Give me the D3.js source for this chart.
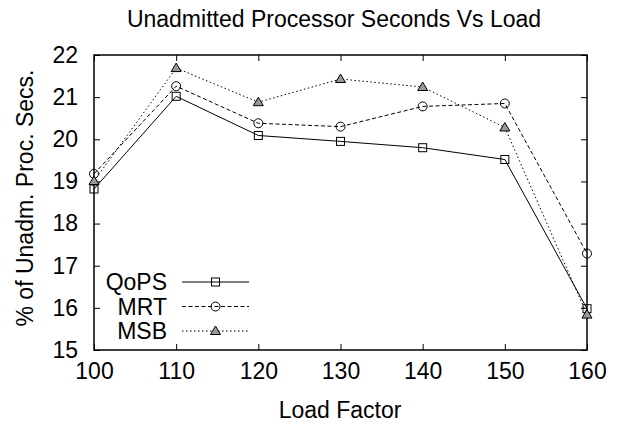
<!DOCTYPE html>
<html>
<head>
<meta charset="utf-8">
<script src="https://cdn.jsdelivr.net/npm/d3@7"></script>
<style>
  body { margin: 0; background: #fff; }
  svg text { font-family: "Liberation Sans", Arial, sans-serif; fill: #000; }
</style>
</head>
<body>
<div id="chart"></div>
<script>
const loadFactors = [100, 110, 120, 130, 140, 150, 160]
const qopsValues = [18.82, 21.02, 20.09, 19.95, 19.80, 19.52, 15.98]
const mrtValues = [19.18, 21.26, 20.38, 20.30, 20.78, 20.85, 17.29]
const msbValues = [19.01, 21.69, 20.88, 21.43, 21.24, 20.28, 15.84]
const yTicks = [15, 16, 17, 18, 19, 20, 21, 22]

const series = [
  { name: "QoPS", values: qopsValues, dash: null, marker: "square" },
  { name: "MRT", values: mrtValues, dash: "4,2.5", marker: "circle" },
  { name: "MSB", values: msbValues, dash: "1.5,2.5", marker: "triangle" }
]

const width = 618
const height = 425
const margin = { top: 55, right: 31, bottom: 75, left: 94 }
const boundedWidth = width - margin.left - margin.right
const boundedHeight = height - margin.top - margin.bottom
const fontSize = 23

const svg = d3.select("#chart").append("svg")
  .attr("width", width)
  .attr("height", height)

const bounds = svg.append("g")
  .attr("transform", `translate(${margin.left},${margin.top})`)

const xScale = d3.scaleLinear()
  .domain([100, 160])
  .range([0, boundedWidth])
const yScale = d3.scaleLinear()
  .domain([15, 22])
  .range([boundedHeight, 0])

// ticks drawn inward on all four sides, labels only bottom/left
const xAxis = bounds.append("g")
  .attr("transform", `translate(0,${boundedHeight})`)
  .call(d3.axisBottom(xScale).tickValues(loadFactors).tickFormat(d3.format("d"))
    .tickSize(-6).tickPadding(13))
const xAxisTop = bounds.append("g")
  .call(d3.axisTop(xScale).tickValues(loadFactors).tickSize(-6).tickFormat(""))
const yAxis = bounds.append("g")
  .call(d3.axisLeft(yScale).tickValues(yTicks).tickFormat(d3.format("d"))
    .tickSize(-6).tickPadding(16))
const yAxisRight = bounds.append("g")
  .attr("transform", `translate(${boundedWidth},0)`)
  .call(d3.axisRight(yScale).tickValues(yTicks).tickSize(-6).tickFormat(""))

bounds.selectAll(".domain").remove()
bounds.selectAll(".tick line").attr("stroke", "#000").attr("stroke-width", 1)
bounds.selectAll(".tick text")
  .style("font-size", `${fontSize}px`)
  .style("font-family", "'Liberation Sans', Arial, sans-serif")
  .attr("fill", "#000")
xAxis.selectAll(".tick text").attr("dy", "0.71em")

bounds.append("rect")
  .attr("width", boundedWidth)
  .attr("height", boundedHeight)
  .attr("fill", "none")
  .attr("stroke", "#000")
  .attr("stroke-width", 1.5)

const lineGenerator = d3.line()
  .x((d, i) => xScale(loadFactors[i]))
  .y(d => yScale(d))

const drawMarker = (g, type, x, y) => {
  if (type === "square") {
    g.append("rect")
      .attr("x", x - 4).attr("y", y - 4)
      .attr("width", 8).attr("height", 8)
      .attr("fill", "none").attr("stroke", "#000").attr("stroke-width", 1)
  } else if (type === "circle") {
    g.append("circle")
      .attr("cx", x).attr("cy", y).attr("r", 4.5)
      .attr("fill", "none").attr("stroke", "#000").attr("stroke-width", 1)
  } else {
    const s = 5
    g.append("path")
      .attr("d", `M${x},${y - s}L${x + s},${y + s * 0.7}L${x - s},${y + s * 0.7}Z`)
      .attr("fill", "#999").attr("stroke", "#000").attr("stroke-width", 1)
  }
}

series.forEach(s => {
  bounds.append("path")
    .attr("d", lineGenerator(s.values))
    .attr("fill", "none")
    .attr("stroke", "#000")
    .attr("stroke-width", 1)
    .attr("stroke-dasharray", s.dash)
  const markers = bounds.append("g")
  s.values.forEach((v, i) => drawMarker(markers, s.marker, xScale(loadFactors[i]), yScale(v)))
})

// Legend
const legend = svg.append("g")
series.forEach((s, i) => {
  const y = 282 + i * 24.5
  legend.append("text")
    .attr("x", 167).attr("y", y)
    .attr("dy", "0.35em")
    .attr("text-anchor", "end")
    .style("font-size", `${fontSize}px`)
    .text(s.name)
  legend.append("line")
    .attr("x1", 182).attr("x2", 249)
    .attr("y1", y).attr("y2", y)
    .attr("stroke", "#000")
    .attr("stroke-width", 1)
    .attr("stroke-dasharray", s.dash)
  drawMarker(legend, s.marker, 215.5, y)
})

// Titles
svg.append("text")
  .attr("x", 334).attr("y", 27)
  .attr("text-anchor", "middle")
  .style("font-size", `${fontSize}px`)
  .text("Unadmitted Processor Seconds Vs Load")

svg.append("text")
  .attr("x", 340).attr("y", 418)
  .attr("text-anchor", "middle")
  .style("font-size", `${fontSize}px`)
  .text("Load Factor")

svg.append("text")
  .attr("transform", `translate(33,198) rotate(-90)`)
  .attr("text-anchor", "middle")
  .style("font-size", `${fontSize}px`)
  .text("% of Unadm. Proc. Secs.")
</script>
</body>
</html>
